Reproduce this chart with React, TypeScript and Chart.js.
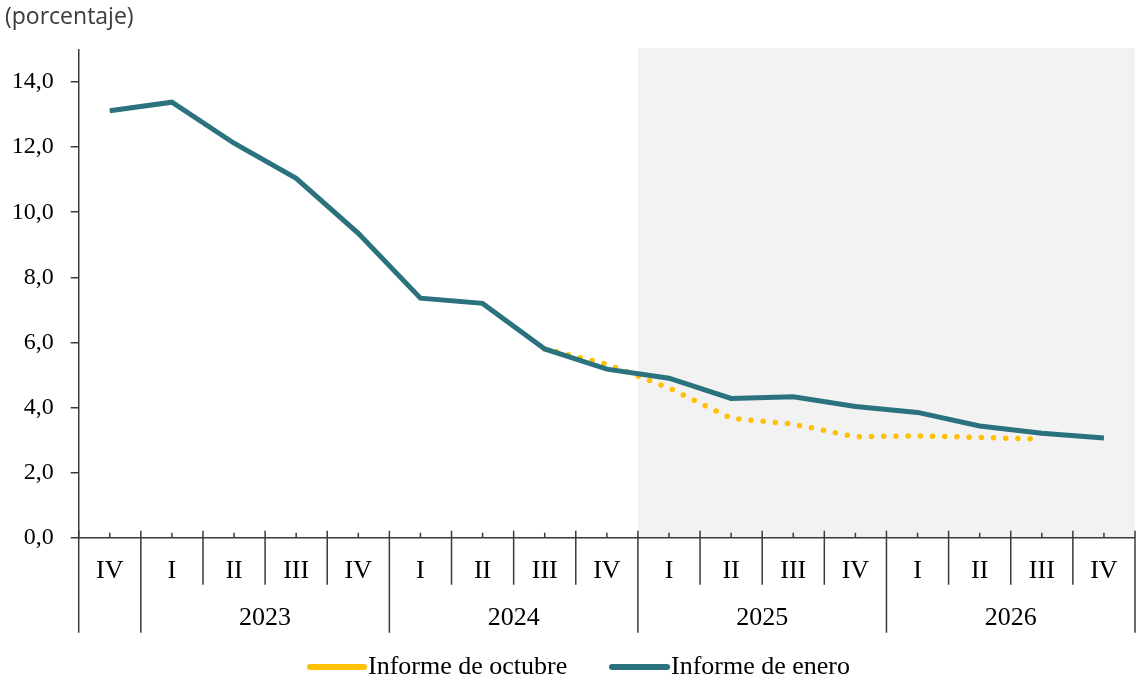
import React, { useEffect, useRef } from "react";
import { Chart, registerables } from "chart.js";

Chart.register(...registerables);

const quarters = ["IV", "I", "II", "III", "IV", "I", "II", "III", "IV", "I", "II", "III", "IV", "I", "II", "III", "IV"];
const years = ["2022", "2023", "2023", "2023", "2023", "2024", "2024", "2024", "2024", "2025", "2025", "2025", "2025", "2026", "2026", "2026", "2026"];
const informeEnero = [13.12, 13.38, 12.12, 11.04, 9.35, 7.36, 7.2, 5.8, 5.18, 4.9, 4.28, 4.33, 4.03, 3.85, 3.43, 3.21, 3.06];
const informeOctubre = [null, null, null, null, null, null, null, 5.8, 5.33, 4.6, 3.67, 3.49, 3.1, 3.13, 3.08, 3.03, null];
const yTicks = [0, 2, 4, 6, 8, 10, 12, 14];
const shadeFromIndex = 9;

const SERIF = '"Liberation Serif", "Times New Roman", serif';
const AXIS = "#3a3a3a";
const TEAL = "#2a727d";
const GOLD = "#ffc000";

export default function App() {
  const ref = useRef<HTMLCanvasElement | null>(null);

  useEffect(() => {
    const canvas = ref.current;
    if (!canvas) return;

    const shade = {
      id: "shade",
      beforeDatasetsDraw(chart: any) {
        const { ctx, chartArea } = chart;
        const xs = chart.scales.x;
        const w = xs.getPixelForValue(1) - xs.getPixelForValue(0);
        const x0 = xs.getPixelForValue(shadeFromIndex) - w / 2;
        ctx.save();
        ctx.fillStyle = "#f2f2f2";
        ctx.fillRect(x0, chartArea.top - 1.5, chartArea.right - x0, chartArea.bottom - chartArea.top + 1.5);
        ctx.restore();
      },
    };

    const decor = {
      id: "decor",
      afterDraw(chart: any) {
        const { ctx, chartArea } = chart;
        const xs = chart.scales.x;
        const n = quarters.length;
        const w = xs.getPixelForValue(1) - xs.getPixelForValue(0);
        const y0 = chartArea.bottom;
        ctx.save();
        ctx.strokeStyle = AXIS;
        ctx.lineWidth = 1.5;
        ctx.beginPath();
        ctx.moveTo(chartArea.left, y0);
        ctx.lineTo(chartArea.right, y0);
        for (let i = 0; i < n; i++) {
          const x = xs.getPixelForValue(i);
          ctx.moveTo(x, y0 - 5);
          ctx.lineTo(x, y0);
        }
        for (let b = 0; b <= n; b++) {
          const x = b < n ? xs.getPixelForValue(b) - w / 2 : xs.getPixelForValue(n - 1) + w / 2;
          const yearEdge = b === 0 || b === n || years[b] !== years[b - 1];
          ctx.moveTo(x, y0 - 7);
          ctx.lineTo(x, yearEdge ? y0 + 95 : y0 + 47);
        }
        ctx.stroke();

        ctx.fillStyle = "#000";
        ctx.textAlign = "center";
        ctx.textBaseline = "middle";
        ctx.font = `26px ${SERIF}`;
        for (let i = 0; i < n; i++) {
          ctx.fillText(quarters[i], xs.getPixelForValue(i), y0 + 33);
        }
        let start = 0;
        for (let i = 1; i <= n; i++) {
          if (i === n || years[i] !== years[start]) {
            if (i - start > 1) {
              const cx = (xs.getPixelForValue(start) + xs.getPixelForValue(i - 1)) / 2;
              ctx.fillText(years[start], cx, y0 + 80);
            }
            start = i;
          }
        }

        // title
        ctx.textAlign = "left";
        ctx.fillStyle = "#3a3a3a";
        ctx.font = '23px "Open Sans", sans-serif';
        ctx.fillText("(porcentaje)", 5, 17);

        // legend
        const ly = 667;
        ctx.lineCap = "round";
        ctx.lineWidth = 6;
        ctx.strokeStyle = GOLD;
        ctx.beginPath();
        ctx.moveTo(310, ly);
        ctx.lineTo(364, ly);
        ctx.stroke();
        ctx.strokeStyle = TEAL;
        ctx.beginPath();
        ctx.moveTo(612, ly);
        ctx.lineTo(667, ly);
        ctx.stroke();
        ctx.fillStyle = "#000";
        ctx.font = `26px ${SERIF}`;
        ctx.fillText("Informe de octubre", 368, ly);
        ctx.fillText("Informe de enero", 671, ly);
        ctx.restore();
      },
    };

    const chart = new Chart(canvas, {
      type: "line",
      data: {
        labels: quarters,
        datasets: [
          {
            label: "Informe de enero",
            data: informeEnero,
            borderColor: TEAL,
            borderWidth: 5,
            pointRadius: 0,
            tension: 0,
            order: 1,
          },
          {
            label: "Informe de octubre",
            data: informeOctubre,
            borderColor: GOLD,
            borderWidth: 5.5,
            borderDash: [0, 12.2],
            borderCapStyle: "round",
            pointRadius: 0,
            tension: 0,
            spanGaps: false,
            order: 2,
          },
        ],
      },
      options: {
        responsive: false,
        animation: false,
        devicePixelRatio: 1,
        layout: { padding: { left: 0, right: 2, top: 49.5, bottom: 143.3 } },
        plugins: { legend: { display: false }, tooltip: { enabled: false } },
        scales: {
          x: { type: "category", display: false, offset: true },
          y: {
            min: 0,
            max: 15,
            afterBuildTicks: (scale: any) => {
              scale.ticks = yTicks.map((v) => ({ value: v }));
            },
            afterFit: (scale: any) => {
              scale.width = 78.7;
            },
            border: { display: true, color: AXIS, width: 1.5 },
            grid: { display: true, drawOnChartArea: false, drawTicks: true, tickLength: 8, color: AXIS, lineWidth: 1.5 },
            ticks: {
              padding: 17,
              color: "#000",
              font: { family: SERIF, size: 24 },
              callback: (v: any) => Number(v).toFixed(1).replace(".", ","),
            },
          },
        },
      },
      plugins: [shade, decor],
    });

    return () => chart.destroy();
  }, []);

  return (
    <div style={{ position: "absolute", left: 0, top: 0, width: 1137, height: 681, background: "#fff" }}>
      <canvas ref={ref} width={1137} height={681} style={{ display: "block" }} />
    </div>
  );
}
